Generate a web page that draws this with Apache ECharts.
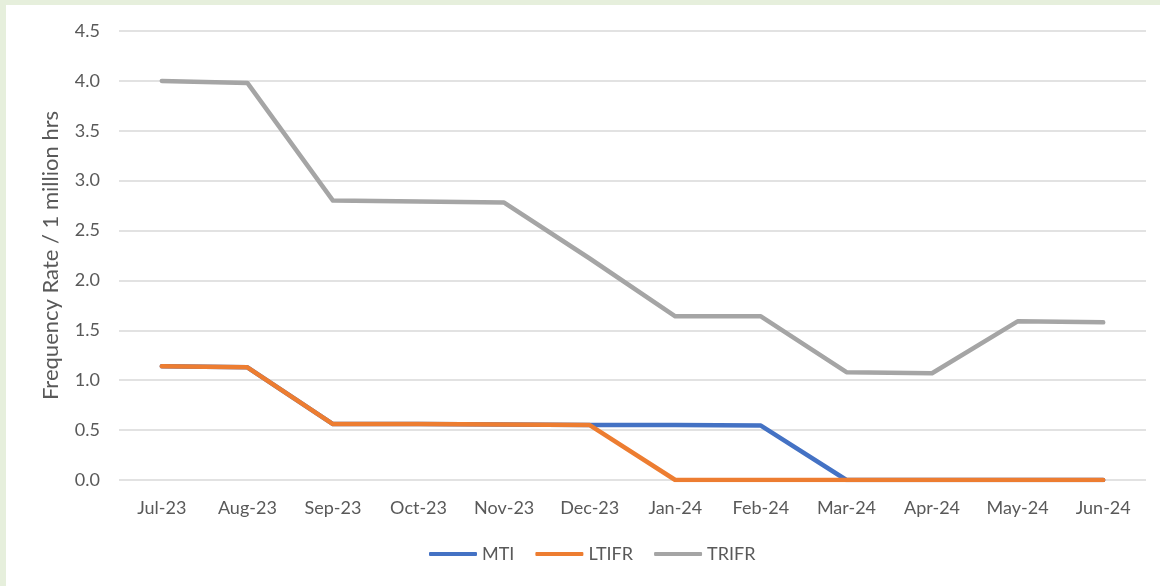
<!DOCTYPE html>
<html>
	<head>
		<meta charset="utf-8">
		<title>Frequency Rate</title>
		<script src="https://cdn.jsdelivr.net/npm/echarts@6/dist/echarts.min.js"></script>
		<style>
			html, body { margin: 0; padding: 0; }
			body { width: 1160px; height: 586px; background: #e6efdc; position: relative; overflow: hidden; }
			#card { position: absolute; left: 6px; top: 5px; width: 1154px; height: 581px; background: #fff; }
			#main { position: absolute; left: 0; top: 0; width: 1160px; height: 586px; }
		</style>
	</head>
	<body>
		<div id="card"></div>
		<div id="main"></div>
		<script type="text/javascript">
			const months = ['Jul-23','Aug-23','Sep-23','Oct-23','Nov-23','Dec-23','Jan-24','Feb-24','Mar-24','Apr-24','May-24','Jun-24']
			const mti = [1.14, 1.13, 0.56, 0.56, 0.555, 0.55, 0.55, 0.545, 0, 0, 0, 0]
			const ltifr = [1.14, 1.13, 0.56, 0.56, 0.555, 0.55, 0, 0, 0, 0, 0, 0]
			const trifr = [4.0, 3.98, 2.8, 2.79, 2.78, 2.22, 1.64, 1.64, 1.08, 1.07, 1.59, 1.58]

			const textColor = '#595959'
			const font = 'Lato, "Open Sans", sans-serif'

			const mkLine = (name, data, color) => {
				return {
					name: name,
					type: 'line',
					data: data,
					symbol: 'none',
					lineStyle: { width: 4.5, color: color, cap: 'round', join: 'round' },
					itemStyle: { color: color }
				}
			}

			var chart = echarts.init(document.getElementById('main'))
			chart.setOption({
				backgroundColor: 'transparent',
				animation: false,
				grid: { left: 119, right: 14, top: 31, bottom: 106 },
				legend: {
					bottom: 18,
					left: 424,
					itemWidth: 48,
					itemHeight: 4,
					itemGap: 21,
					icon: 'roundRect',
					textStyle: { color: textColor, fontSize: 18, fontFamily: font },
					data: ['MTI', 'LTIFR', 'TRIFR']
				},
				xAxis: {
					type: 'category',
					data: months,
					boundaryGap: true,
					axisLine: { show: false },
					axisTick: { show: false },
					axisLabel: { color: textColor, fontSize: 18, fontFamily: font, margin: 19 }
				},
				yAxis: {
					type: 'value',
					min: 0,
					max: 4.5,
					interval: 0.5,
					name: 'Frequency Rate / 1 million hrs',
					nameLocation: 'middle',
					nameGap: 57,
					nameTextStyle: { color: textColor, fontSize: 22, fontFamily: font },
					axisLine: { show: false },
					axisTick: { show: false },
					axisLabel: { color: textColor, fontSize: 18, fontFamily: font, margin: 19, formatter: (v) => v.toFixed(1) },
					splitLine: { lineStyle: { color: '#d9d9d9', width: 1.5 } }
				},
				series: [
					mkLine('MTI', mti, '#4472c4'),
					mkLine('LTIFR', ltifr, '#ed7d31'),
					mkLine('TRIFR', trifr, '#a5a5a5')
				]
			})
		</script>
	</body>
</html>
